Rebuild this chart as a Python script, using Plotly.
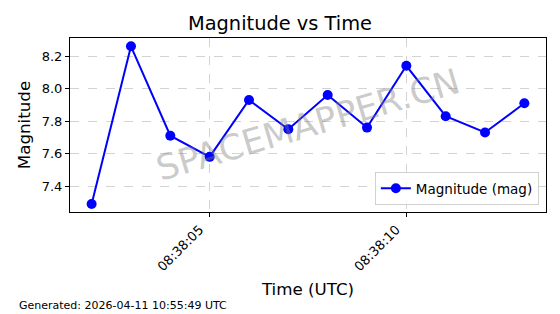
import plotly.graph_objects as go
import pandas as pd

times = ["2026-04-11 08:38:02", "2026-04-11 08:38:03", "2026-04-11 08:38:04", "2026-04-11 08:38:05",
         "2026-04-11 08:38:06", "2026-04-11 08:38:07", "2026-04-11 08:38:08", "2026-04-11 08:38:09",
         "2026-04-11 08:38:10", "2026-04-11 08:38:11", "2026-04-11 08:38:12", "2026-04-11 08:38:13"]
magnitudes = [7.29, 8.26, 7.71, 7.58, 7.93, 7.75, 7.96, 7.76, 8.14, 7.83, 7.73, 7.91]
tick_vals = ["2026-04-11 08:38:05", "2026-04-11 08:38:10"]
tick_text = ["08:38:05", "08:38:10"]

FONT = "DejaVu Sans"

fig = go.Figure()
fig.add_trace(go.Scatter(
    x=pd.to_datetime(times), y=magnitudes, mode="lines+markers",
    name="Magnitude (mag)",
    line=dict(color="#0000ff", width=2),
    marker=dict(color="#0000ff", size=10),
))

fig.update_layout(
    width=560, height=314,
    margin=dict(l=70, r=14, t=38, b=102),
    paper_bgcolor="white", plot_bgcolor="white",
    font=dict(family=FONT, color="black", size=13),
    title=dict(text="Magnitude vs Time", x=0.5, xanchor="center", y=0.925, yanchor="middle",
               font=dict(size=19.4, family=FONT)),
    showlegend=True,
    legend=dict(x=0.985, y=0.04, xanchor="right", yanchor="bottom",
                bordercolor="#d0d0d0", borderwidth=1, bgcolor="rgba(255,255,255,0.8)",
                font=dict(size=13.5, family=FONT)),
)
fig.update_xaxes(
    range=[pd.Timestamp("2026-04-11 08:38:01.45"), pd.Timestamp("2026-04-11 08:38:13.55")],
    tickvals=pd.to_datetime(tick_vals), ticktext=tick_text, tickangle=-45,
    ticks="outside", ticklen=4, tickcolor="black", ticklabelshift=-10,
    showline=True, linecolor="black", linewidth=1, mirror=True,
    showgrid=True, gridcolor="#d3d3d3", griddash="dash", gridwidth=1,
    title=dict(text="Time (UTC)", font=dict(size=16.7, family=FONT), standoff=10),
    tickfont=dict(size=13),
)
fig.update_yaxes(
    range=[7.241, 8.311],
    tickvals=[7.4, 7.6, 7.8, 8.0, 8.2], ticktext=["7.4", "7.6", "7.8", "8.0", "8.2"],
    ticks="outside", ticklen=4, tickcolor="black",
    showline=True, linecolor="black", linewidth=1, mirror=True,
    showgrid=True, gridcolor="#d3d3d3", griddash="dash", gridwidth=1,
    zeroline=False,
    title=dict(text="Magnitude", font=dict(size=16.7, family=FONT), standoff=6),
    tickfont=dict(size=13),
)
fig.add_annotation(
    text="SPACEMAPPER.CN", xref="paper", yref="paper", x=0.5, y=0.5,
    showarrow=False, textangle=-16.5,
    font=dict(size=35, color="rgba(128,128,128,0.42)", family=FONT),
)
fig.add_annotation(
    text="Generated: 2026-04-11 10:55:49 UTC", xref="paper", yref="paper",
    x=(17 - 70) / 476, y=(212 - 305) / 174, xanchor="left", yanchor="middle", showarrow=False,
    font=dict(size=11, family=FONT),
)
fig.write_html("out.html")
